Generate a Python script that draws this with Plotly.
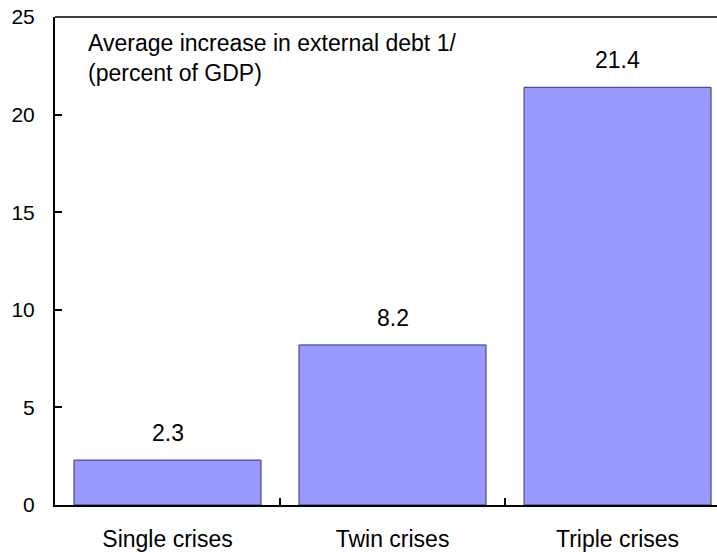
import plotly.graph_objects as go

categories = ["Single crises", "Twin crises", "Triple crises"]
values = [2.3, 8.2, 21.4]
value_labels = ["2.3", "8.2", "21.4"]
y_ticks = [0, 5, 10, 15, 20, 25]
title_text = "Average increase in external debt 1/<br>(percent of GDP)"

FONT = "Liberation Sans, Arial, sans-serif"

fig = go.Figure()
fig.add_trace(go.Bar(
    x=categories, y=values, width=0.831,
    marker=dict(color="#9999FF", line=dict(color="#333366", width=1)),
    hoverinfo="skip",
))

for c, v, t in zip(categories, values, value_labels):
    fig.add_annotation(x=c, y=v, text=t, showarrow=False, yanchor="bottom",
                       yshift=12, font=dict(family=FONT, size=23, color="black"))

fig.add_annotation(xref="paper", yref="paper", x=0.047, y=0.978, xanchor="left", yanchor="top",
                   text=title_text, showarrow=False, align="left",
                   font=dict(family=FONT, size=23, color="black"))

fig.add_shape(type="line", xref="paper", yref="paper", x0=0, x1=1, y0=1, y1=1,
              line=dict(color="black", width=1.5))

fig.update_layout(
    width=717, height=552,
    margin=dict(l=55, r=0, t=17, b=45),
    plot_bgcolor="white", paper_bgcolor="white",
    showlegend=False,
    font=dict(family=FONT, size=21, color="black"),
    xaxis=dict(range=[-0.5, 2.442], showline=True, linecolor="black", linewidth=2,
               ticks="inside", tickson="boundaries", ticklen=7, tickwidth=1.5, tickcolor="black",
               showgrid=False, zeroline=False, ticklabelstandoff=12,
               tickfont=dict(family=FONT, size=23)),
    yaxis=dict(range=[0, 25], tickvals=y_ticks, showline=True, linecolor="black", linewidth=2,
               ticks="inside", ticklen=7, tickwidth=1.5, tickcolor="black",
               showgrid=False, zeroline=False, ticklabelstandoff=14,
               tickfont=dict(family=FONT, size=21)),
)

fig.write_html("out.html")
